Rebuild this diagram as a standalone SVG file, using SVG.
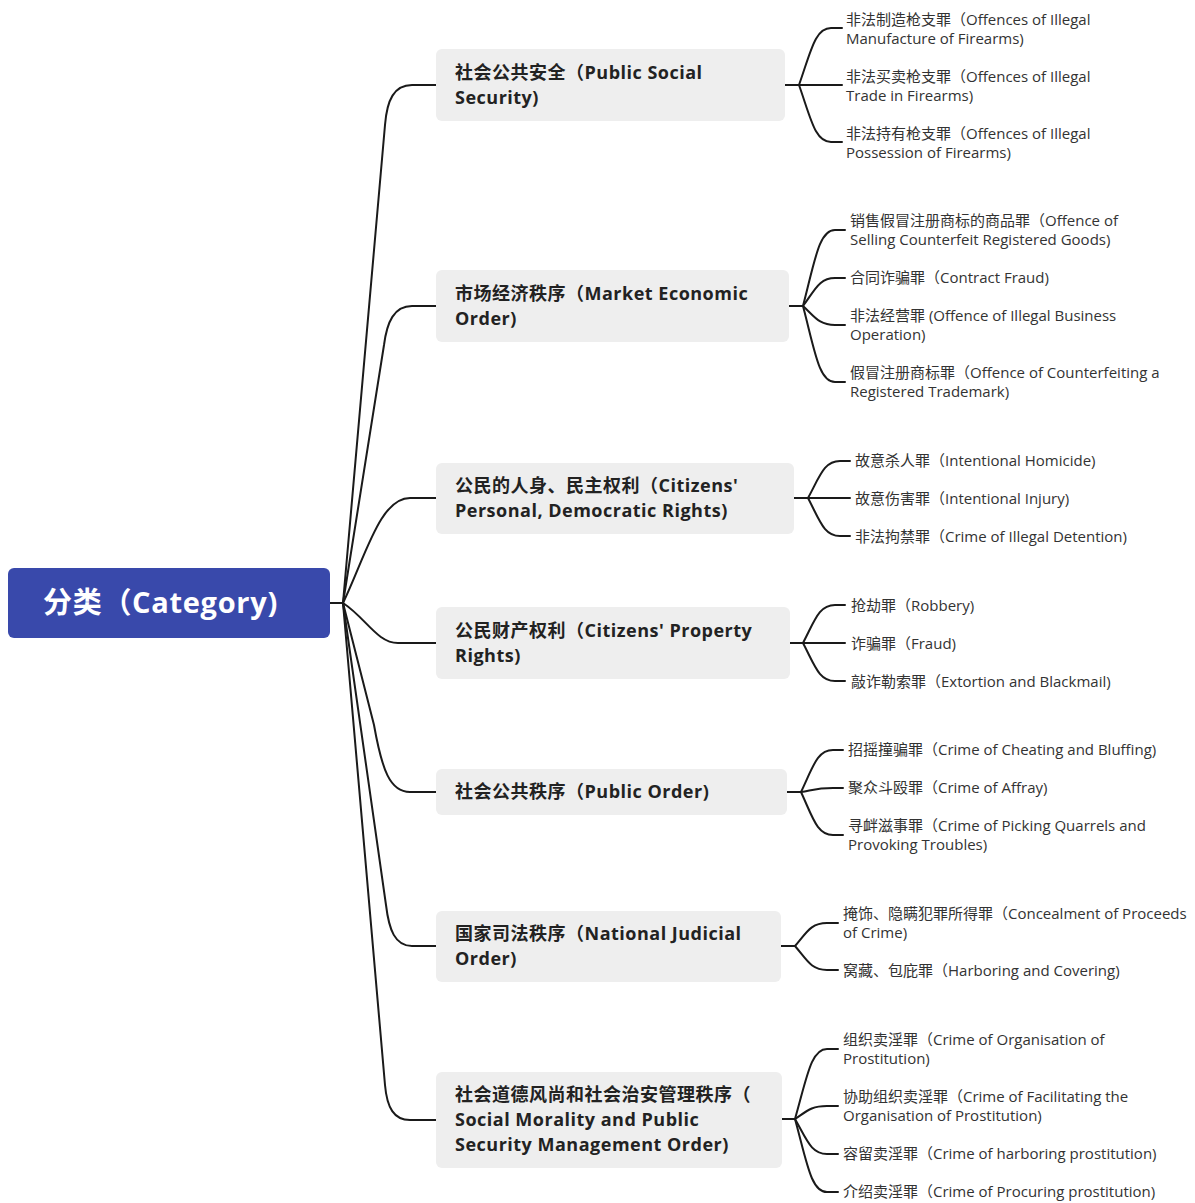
<svg xmlns="http://www.w3.org/2000/svg" width="1195" height="1203" viewBox="0 0 1195 1203">
<style>
.edge{fill:none;stroke:#1a1a1a;stroke-width:2;stroke-linecap:round}
.bnode{fill:#eeeeee}
.btext{font-family:"Open Sans","Noto Sans CJK SC",sans-serif;font-size:18px;font-weight:bold;fill:#222;letter-spacing:0.5px}
.leaf{font-family:"Open Sans","Noto Sans CJK SC",sans-serif;font-size:15px;fill:#333}
.rtext{font-family:"Open Sans","Noto Sans CJK SC",sans-serif;font-size:29px;font-weight:bold;fill:#fff;letter-spacing:0.7px}
</style>
<rect width="1195" height="1203" fill="#fff"/>
<g id="connectors">
<path class="edge" d="M330,603 H343"/>
<path class="edge" d="M343,603 L385,125 C387,100 394,85 412,85 H436"/>
<path class="edge" d="M343,603 L384,345 C387,322 394,306 412,306 H436"/>
<path class="edge" d="M343,603 C366,555 380,498 410,498 H436"/>
<path class="edge" d="M343,603 C366,618 377,643 398,643 H436"/>
<path class="edge" d="M343,603 L374,725 C382,770 390,792 410,792 H436"/>
<path class="edge" d="M343,603 L386,905 C389,930 395,946 412,946 H436"/>
<path class="edge" d="M343,603 L385,1085 C387,1108 394,1120 410,1120 H436"/>
<!-- group 1 -->
<path class="edge" d="M785,85 H799"/>
<path class="edge" d="M799,85 C811,51 815,28 831,28 H842"/>
<path class="edge" d="M799,85 H842"/>
<path class="edge" d="M799,85 C811,119 815,142 831,142 H842"/>
<!-- group 2 -->
<path class="edge" d="M789,306 H803"/>
<path class="edge" d="M803,306 C815,260 819,230 835,230 H845"/>
<path class="edge" d="M803,306 C815,290 819,278 835,278 H845"/>
<path class="edge" d="M803,306 C815,317 819,325 835,325 H845"/>
<path class="edge" d="M803,306 C815,352 819,382 835,382 H845"/>
<!-- group 3 -->
<path class="edge" d="M794,498 H808"/>
<path class="edge" d="M808,498 C820,476 824,461 840,461 H850"/>
<path class="edge" d="M808,498 H850"/>
<path class="edge" d="M808,498 C820,521 824,536 840,536 H850"/>
<!-- group 4 -->
<path class="edge" d="M790,643 H803"/>
<path class="edge" d="M803,643 C815,620 819,605 835,605 H845"/>
<path class="edge" d="M803,643 H845"/>
<path class="edge" d="M803,643 C815,666 819,681 835,681 H845"/>
<!-- group 5 -->
<path class="edge" d="M787,792 H801"/>
<path class="edge" d="M801,792 C813,767 817,750 833,750 H843"/>
<path class="edge" d="M801,792 C813,790 817,788 833,788 H843"/>
<path class="edge" d="M801,792 C813,818 817,835 833,835 H843"/>
<!-- group 6 -->
<path class="edge" d="M781,946 H795"/>
<path class="edge" d="M795,946 C807,932 811,923 827,923 H838"/>
<path class="edge" d="M795,946 C807,960 811,970 827,970 H838"/>
<!-- group 7 -->
<path class="edge" d="M782,1119 H795"/>
<path class="edge" d="M795,1119 C807,1077 811,1049 827,1049 H838"/>
<path class="edge" d="M795,1119 C807,1111 811,1106 827,1106 H838"/>
<path class="edge" d="M795,1119 C807,1140 811,1154 827,1154 H838"/>
<path class="edge" d="M795,1119 C807,1163 811,1192 827,1192 H838"/>
</g>
<g id="root">
<rect x="8" y="568" width="322" height="70" rx="6" fill="#3949ab"/>
<text class="rtext" x="43" y="613">分类（Category)</text>
</g>
<g id="b1">
<rect class="bnode" x="436" y="49" width="349" height="72" rx="6"/>
<text class="btext" x="455" y="79">社会公共安全（Public Social</text>
<text class="btext" x="455" y="104">Security)</text>
</g>
<g id="b2">
<rect class="bnode" x="436" y="270" width="353" height="72" rx="6"/>
<text class="btext" x="455" y="300">市场经济秩序（Market Economic</text>
<text class="btext" x="455" y="325">Order)</text>
</g>
<g id="b3">
<rect class="bnode" x="436" y="463" width="358" height="71" rx="6"/>
<text class="btext" x="455" y="492">公民的人身、民主权利（Citizens'</text>
<text class="btext" x="455" y="517">Personal, Democratic Rights)</text>
</g>
<g id="b4">
<rect class="bnode" x="436" y="607" width="354" height="72" rx="6"/>
<text class="btext" x="455" y="637">公民财产权利（Citizens' Property</text>
<text class="btext" x="455" y="662">Rights)</text>
</g>
<g id="b5">
<rect class="bnode" x="436" y="769" width="351" height="46" rx="6"/>
<text class="btext" x="455" y="798">社会公共秩序（Public Order)</text>
</g>
<g id="b6">
<rect class="bnode" x="436" y="911" width="345" height="71" rx="6"/>
<text class="btext" x="455" y="940">国家司法秩序（National Judicial</text>
<text class="btext" x="455" y="965">Order)</text>
</g>
<g id="b7">
<rect class="bnode" x="436" y="1072" width="346" height="96" rx="6"/>
<text class="btext" x="455" y="1101">社会道德风尚和社会治安管理秩序（</text>
<text class="btext" x="455" y="1126">Social Morality and Public</text>
<text class="btext" x="455" y="1151">Security Management Order)</text>
</g>
<g id="l1a"><text class="leaf" x="846" y="25">非法制造枪支罪（Offences of Illegal</text><text class="leaf" x="846" y="44">Manufacture of Firearms)</text></g>
<g id="l1b"><text class="leaf" x="846" y="82">非法买卖枪支罪（Offences of Illegal</text><text class="leaf" x="846" y="101">Trade in Firearms)</text></g>
<g id="l1c"><text class="leaf" x="846" y="139">非法持有枪支罪（Offences of Illegal</text><text class="leaf" x="846" y="158">Possession of Firearms)</text></g>
<g id="l2a"><text class="leaf" x="850" y="226">销售假冒注册商标的商品罪（Offence of</text><text class="leaf" x="850" y="245">Selling Counterfeit Registered Goods)</text></g>
<g id="l2b"><text class="leaf" x="850" y="283">合同诈骗罪（Contract Fraud)</text></g>
<g id="l2c"><text class="leaf" x="850" y="321">非法经营罪 (Offence of Illegal Business</text><text class="leaf" x="850" y="340">Operation)</text></g>
<g id="l2d"><text class="leaf" x="850" y="378">假冒注册商标罪（Offence of Counterfeiting a</text><text class="leaf" x="850" y="397">Registered Trademark)</text></g>
<g id="l3a"><text class="leaf" x="855" y="466">故意杀人罪（Intentional Homicide)</text></g>
<g id="l3b"><text class="leaf" x="855" y="504">故意伤害罪（Intentional Injury)</text></g>
<g id="l3c"><text class="leaf" x="855" y="542">非法拘禁罪（Crime of Illegal Detention)</text></g>
<g id="l4a"><text class="leaf" x="851" y="611">抢劫罪（Robbery)</text></g>
<g id="l4b"><text class="leaf" x="851" y="649">诈骗罪（Fraud)</text></g>
<g id="l4c"><text class="leaf" x="851" y="687">敲诈勒索罪（Extortion and Blackmail)</text></g>
<g id="l5a"><text class="leaf" x="848" y="755">招摇撞骗罪（Crime of Cheating and Bluffing)</text></g>
<g id="l5b"><text class="leaf" x="848" y="793">聚众斗殴罪（Crime of Affray)</text></g>
<g id="l5c"><text class="leaf" x="848" y="831">寻衅滋事罪（Crime of Picking Quarrels and</text><text class="leaf" x="848" y="850">Provoking Troubles)</text></g>
<g id="l6a"><text class="leaf" x="843" y="919">掩饰、隐瞒犯罪所得罪（Concealment of Proceeds</text><text class="leaf" x="843" y="938">of Crime)</text></g>
<g id="l6b"><text class="leaf" x="843" y="976">窝藏、包庇罪（Harboring and Covering)</text></g>
<g id="l7a"><text class="leaf" x="843" y="1045">组织卖淫罪（Crime of Organisation of</text><text class="leaf" x="843" y="1064">Prostitution)</text></g>
<g id="l7b"><text class="leaf" x="843" y="1102">协助组织卖淫罪（Crime of Facilitating the</text><text class="leaf" x="843" y="1121">Organisation of Prostitution)</text></g>
<g id="l7c"><text class="leaf" x="843" y="1159">容留卖淫罪（Crime of harboring prostitution)</text></g>
<g id="l7d"><text class="leaf" x="843" y="1197">介绍卖淫罪（Crime of Procuring prostitution)</text></g>
</svg>
